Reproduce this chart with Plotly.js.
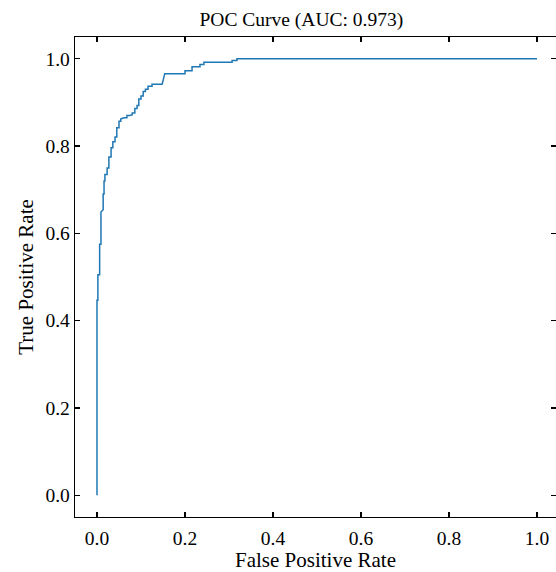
<!DOCTYPE html>
<html>
<head>
<meta charset="utf-8">
<script src="https://cdn.plot.ly/plotly-3.0.1.min.js"></script>
<style>html,body{margin:0;padding:0;background:#fff;}#chart{width:556px;height:572px;}</style>
</head>
<body>
<div id="chart"></div>
<script>
const fpr = [0,0,0.002,0.002,0.006,0.006,0.009,0.009,0.014,0.014,0.016,0.016,0.018,0.018,0.023,0.023,0.027,0.027,0.032,0.032,0.036,0.036,0.041,0.041,0.045,0.045,0.05,0.05,0.054,0.054,0.061,0.068,0.068,0.075,0.08,0.08,0.086,0.086,0.091,0.091,0.095,0.095,0.1,0.1,0.105,0.105,0.11,0.11,0.116,0.116,0.125,0.125,0.148,0.154,0.2,0.2,0.216,0.216,0.234,0.234,0.243,0.243,0.307,0.307,0.318,0.318,1.0];
const tpr = [0,0.447,0.447,0.505,0.505,0.575,0.575,0.649,0.654,0.69,0.69,0.72,0.72,0.735,0.735,0.75,0.75,0.775,0.775,0.796,0.796,0.81,0.81,0.821,0.821,0.842,0.842,0.857,0.857,0.862,0.865,0.865,0.87,0.87,0.872,0.876,0.876,0.886,0.886,0.893,0.893,0.908,0.908,0.915,0.915,0.925,0.925,0.93,0.93,0.937,0.937,0.942,0.942,0.966,0.966,0.9725,0.9725,0.982,0.982,0.987,0.987,0.992,0.992,0.996,0.996,1.0,1.0];
const auc = "0.973";
const tickVals = [0,0.2,0.4,0.6,0.8,1.0];
const tickText = ["0.0","0.2","0.4","0.6","0.8","1.0"];

const fam = "Liberation Serif, Times New Roman, serif";
const tickFont = {family: fam, size: 19.5, color: "#000"};
const labelFont = {family: fam, size: 21, color: "#000"};
const titleFont = {family: fam, size: 19.5, color: "#000"};
const axisCommon = {
  tickmode: "array", tickvals: tickVals, ticktext: tickText,
  ticks: "inside", ticklen: 5, tickwidth: 1.2, tickcolor: "#000",
  showline: true, linecolor: "#000", linewidth: 1.3, mirror: "ticks",
  showgrid: false, zeroline: false, tickfont: tickFont
};
Plotly.newPlot("chart", [{
  x: fpr, y: tpr, type: "scatter", mode: "lines",
  line: {color: "#1f77b4", width: 1.5}, hoverinfo: "skip"
}], {
  width: 556, height: 572,
  margin: {l: 75, r: 0, t: 37, b: 55},
  paper_bgcolor: "#fff", plot_bgcolor: "#fff",
  font: tickFont, showlegend: false,
  title: {text: "POC Curve (AUC: " + auc + ")", font: titleFont, xref: "container", x: 0.542, xanchor: "center", yref: "container", y: 0.967, yanchor: "middle"},
  xaxis: Object.assign({}, axisCommon, {range: [-0.05, 1.0432], ticklabelstandoff: 3, title: {text: "False Positive Rate", font: labelFont, standoff: 4}}),
  yaxis: Object.assign({}, axisCommon, {range: [-0.05, 1.05], title: {text: "True Positive Rate", font: labelFont, standoff: 6}})
}, {staticPlot: true});
</script>
</body>
</html>
